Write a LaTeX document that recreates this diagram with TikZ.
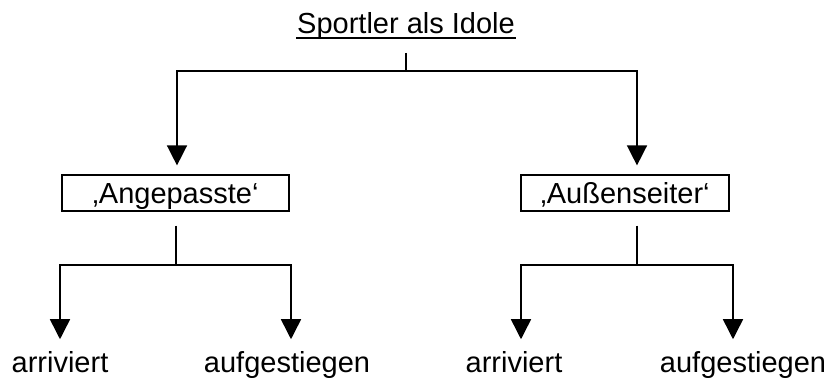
\documentclass[tikz,border=0pt]{standalone}
\usepackage{fontspec}
\setmainfont{Liberation Sans}
\usetikzlibrary{arrows.meta}

\begin{document}
\begin{tikzpicture}[x=1pt, y=-1pt, >={Triangle[width=20pt,length=20pt]}, line width=1.5pt,
        every node/.style={inner sep=0pt, font=\fontsize{29}{34}\selectfont},
        box/.style={draw, line width=1.2pt, minimum height=36pt, text height=26pt, text depth=6pt}]
        \useasboundingbox (0,0) rectangle (828,378);
        \node[anchor=base] (title) at (406,33) {Sportler als Idole};
        \draw[line width=2pt] ([yshift=-5pt]title.base west) -- ([yshift=-5pt]title.base east);
        \node[box, minimum width=227pt] (ang) at (175.5,193) {‚Angepasste‘};
        \node[box, minimum width=208pt] (aus) at (625,193) {‚Außenseiter‘};
        \node[anchor=base] (arr1) at (60,372) {arriviert};
        \node[anchor=base] (auf1) at (287,372) {aufgestiegen};
        \node[anchor=base] (arr2) at (514,372) {arriviert};
        \node[anchor=base] (auf2) at (743,372) {aufgestiegen};
        \coordinate (split) at (406,71);
        \coordinate (angsplit) at (176,265);
        \coordinate (aussplit) at (637,265);
        % top level
        \draw[shorten <=13pt] (title.south) -- (split);
        \draw[->, shorten >=9pt] (split) -| ([xshift=1.5pt]ang.north);
        \draw[->, shorten >=9pt] (split) -| ([xshift=12pt]aus.north);
        % second level
        \draw[shorten <=14pt] ([xshift=0.5pt]ang.south) -- (angsplit);
        \draw[shorten <=14pt] ([xshift=12pt]aus.south) -- (aussplit);
        \draw[->, shorten >=11pt] (angsplit) -| (arr1.north);
        \draw[->, shorten >=11pt] (angsplit) -| ([xshift=4pt]auf1.north);
        \draw[->, shorten >=11pt] (aussplit) -| ([xshift=7pt]arr2.north);
        \draw[->, shorten >=11pt] (aussplit) -| ([xshift=-10pt]auf2.north);
    \end{tikzpicture}
\end{document}
